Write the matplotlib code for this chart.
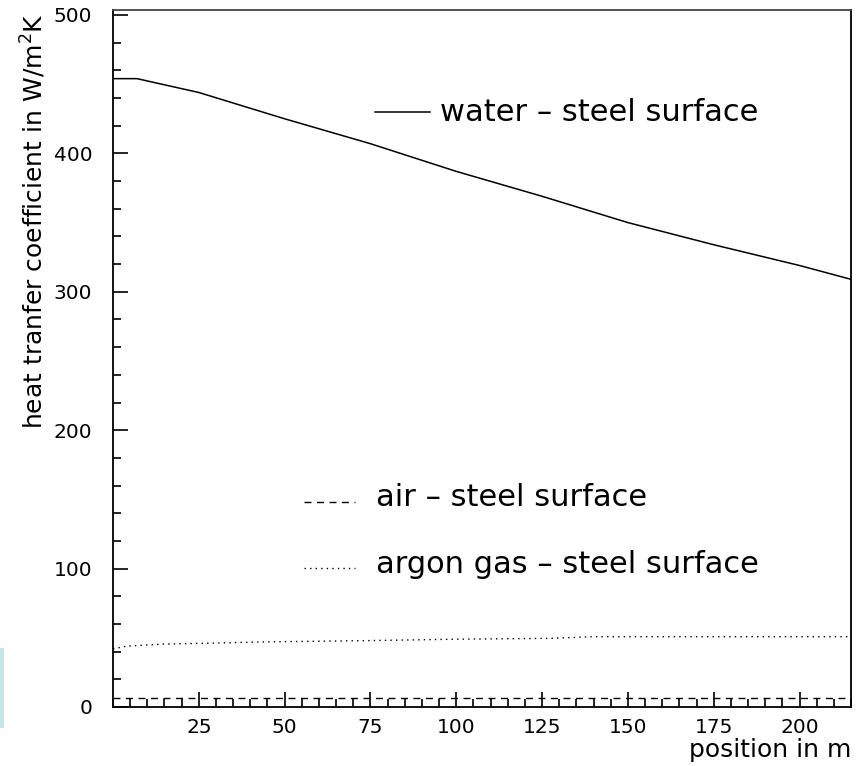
import matplotlib
matplotlib.use("Agg")
import matplotlib.pyplot as plt
from matplotlib.patches import Rectangle
from matplotlib.ticker import MultipleLocator

# values
water_x = [0, 7, 25, 50, 75, 100, 125, 150, 175, 200, 215]
water_y = [454, 454, 444, 425, 407, 387, 369, 350, 334, 319, 309]

argon_x = [0, 4, 15, 26, 43, 75, 100, 127, 140, 215]
argon_y = [42, 44, 45.5, 46, 47, 48, 49, 49.6, 50.8, 50.8]

air_x = [0, 215]
air_y = [6.5, 6.5]

labels = ["water \u2013 steel surface", "air \u2013 steel surface", "argon gas \u2013 steel surface"]

plt.rcParams['font.family'] = ['DejaVu Sans']

W, H = 856, 766
fig = plt.figure(figsize=(W / 100, H / 100), dpi=100)
ax = fig.add_axes([113 / W, 1 - 707 / H, (851 - 113) / W, (707 - 10) / H])

ax.plot(water_x, water_y, color='black', lw=1.1)
ax.plot(air_x, air_y, color='black', lw=1.0, dashes=(5, 4))
ax.plot(argon_x, argon_y, color='black', lw=1.0, dashes=(1, 3))

ax.set_xlim(0, 215)
ax.set_ylim(0, 503.6)

ax.xaxis.set_major_locator(MultipleLocator(25))
ax.xaxis.set_minor_locator(MultipleLocator(5))
ax.yaxis.set_major_locator(MultipleLocator(100))
ax.yaxis.set_minor_locator(MultipleLocator(20))
ax.tick_params(which='both', direction='in', top=False, right=False, width=1.2)
ax.tick_params(which='major', length=10.5, labelsize=14.5)
ax.tick_params(axis='y', which='major', pad=15)
ax.tick_params(axis='x', which='major', pad=8)
ax.tick_params(which='minor', length=6)
xt = ax.get_xticks()
ax.set_xticks([t for t in xt if 0 < t <= 215])
ax.set_xticklabels([str(int(t)) for t in ax.get_xticks()])
for s in ax.spines.values():
    s.set_linewidth(1.3)
ax.spines['top'].set_color('#444444')

# legend drawn by hand, as in the original
ax.plot([0.355, 0.4295], [0.8537, 0.8537], transform=ax.transAxes, color='black', lw=1.1)
ax.text(0.443, (707 - 121) / 697, labels[0], transform=ax.transAxes, fontsize=22, va='baseline')
ax.plot([0.259, 0.328], [(707 - 502) / 697] * 2, transform=ax.transAxes, color='black', lw=1.0, dashes=(5, 4))
ax.text(0.357, (707 - 506) / 697, labels[1], transform=ax.transAxes, fontsize=22, va='baseline')
ax.plot([0.259, 0.328], [(707 - 568) / 697] * 2, transform=ax.transAxes, color='black', lw=1.0, dashes=(1, 3))
ax.text(0.357, (707 - 573) / 697, labels[2], transform=ax.transAxes, fontsize=22, va='baseline')

fig.text(43 / W, 1 - 13 / H, "heat tranfer coefficient in W/m$^{2}$K", rotation=90,
         rotation_mode='anchor', ha='right', va='baseline', fontsize=18)
fig.text(851 / W, 1 - 757 / H, "position in m", ha='right', va='baseline', fontsize=18)

fig.patches.append(Rectangle((0, 1 - 728 / H), 4 / W, 80 / H, transform=fig.transFigure,
                             facecolor='#c4e6ea', edgecolor='none'))

fig.savefig("out.png", dpi=100)
